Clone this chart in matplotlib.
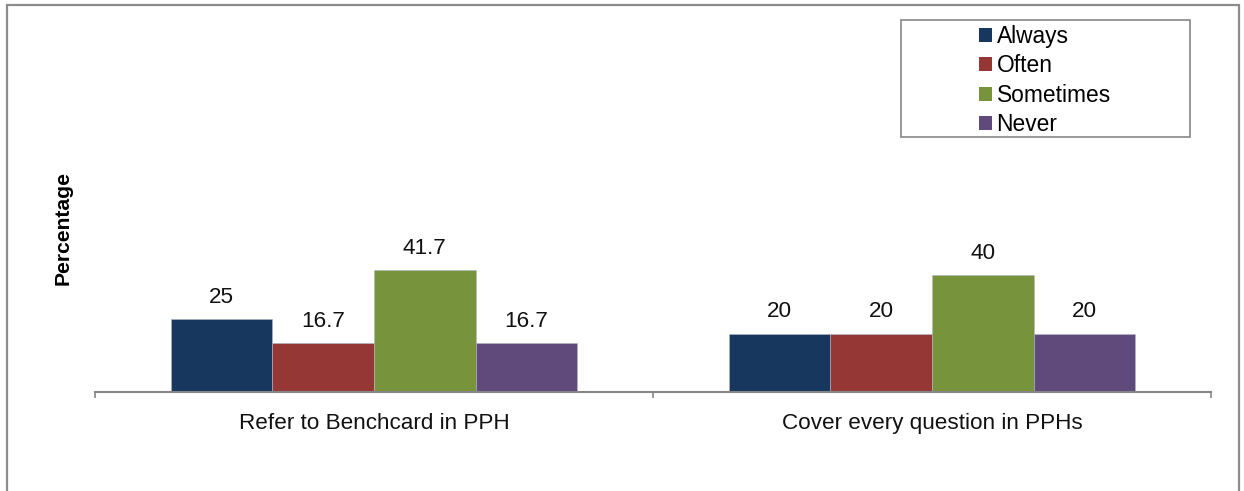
import numpy as np
import matplotlib.pyplot as plt
from matplotlib.patches import Rectangle, Patch

categories = ['Refer to Benchcard in PPH', 'Cover every question in PPHs']
series_names = ['Always', 'Often', 'Sometimes', 'Never']
always = [25, 20]
often = [16.7, 20]
sometimes = [41.7, 40]
never = [16.7, 20]
value_labels = [['25', '20'], ['16.7', '20'], ['41.7', '40'], ['16.7', '20']]

colors = ['#17375E', '#953735', '#77933C', '#604A7B']

plt.rcParams['font.family'] = ['Liberation Sans', 'DejaVu Sans']

fig = plt.figure(figsize=(12.44, 4.91), dpi=100)
W, H = 1244, 491

def fx(px):
    return px / W

def fy(py):
    return 1 - py / H

ax = fig.add_axes([fx(95), fy(392), fx(1211) - fx(95), fy(100) - fy(392)])

x = np.arange(len(categories))
bar_w = 0.182
series = [always, often, sometimes, never]
for i, (vals, color, labels) in enumerate(zip(series, colors, value_labels)):
    pos = x + (i - 1.5) * bar_w
    bars = ax.bar(pos, vals, width=bar_w, color=color, edgecolor='#B0B8C8',
                  linewidth=0.4, label=series_names[i], zorder=2)
    for b, lab in zip(bars, labels):
        ax.annotate(lab, (b.get_x() + b.get_width() / 2, b.get_height()),
                    xytext=(0, 8), textcoords='offset points',
                    ha='center', va='bottom', fontsize=16.2, color='#111111')

ax.set_xlim(-0.5, len(categories) - 0.5)
ax.set_ylim(0, 100)
ax.set_yticks([])
for side in ['left', 'right', 'top']:
    ax.spines[side].set_visible(False)
ax.spines['bottom'].set_color('#868686')
ax.spines['bottom'].set_linewidth(1.5)

# boundary ticks on the major locator, category names on the minor one
ax.set_xticks(np.arange(len(categories) + 1) - 0.5)
ax.set_xticklabels([])
ax.tick_params(axis='x', which='major', length=4.5, width=1.2,
               color='#868686', direction='out')
ax.set_xticks(x, minor=True)
ax.set_xticklabels(categories, minor=True, fontsize=16.2, color='#111111')
ax.tick_params(axis='x', which='minor', length=0, pad=15)

fig.text(fx(63), fy(228), 'Percentage', rotation=90, ha='center', va='center',
         fontsize=15.2, fontweight='bold', color='#000000')

# legend box drawn separately so the entries can sit off-centre inside it
fig.patches.append(Rectangle((fx(901), fy(137)), fx(1190) - fx(901),
                             fy(20) - fy(137), transform=fig.transFigure,
                             fill=False, edgecolor='#868686', linewidth=1.2))
handles = [Patch(facecolor=c, edgecolor='none') for c in colors]
fig.legend(handles, series_names, loc='upper left',
           bbox_to_anchor=(fx(972), fy(18)), frameon=False, fontsize=16.4,
           handlelength=0.56, handleheight=0.56, handletextpad=0.22,
           labelspacing=0.285, borderaxespad=0, borderpad=0.3)

# outer chart border (its bottom edge runs below the canvas)
fig.patches.append(Rectangle((fx(7), fy(520)), fx(1239) - fx(7),
                             fy(5) - fy(520), transform=fig.transFigure,
                             fill=False, edgecolor='#8C8C8C', linewidth=1.6))

fig.savefig('out.png', dpi=100)
